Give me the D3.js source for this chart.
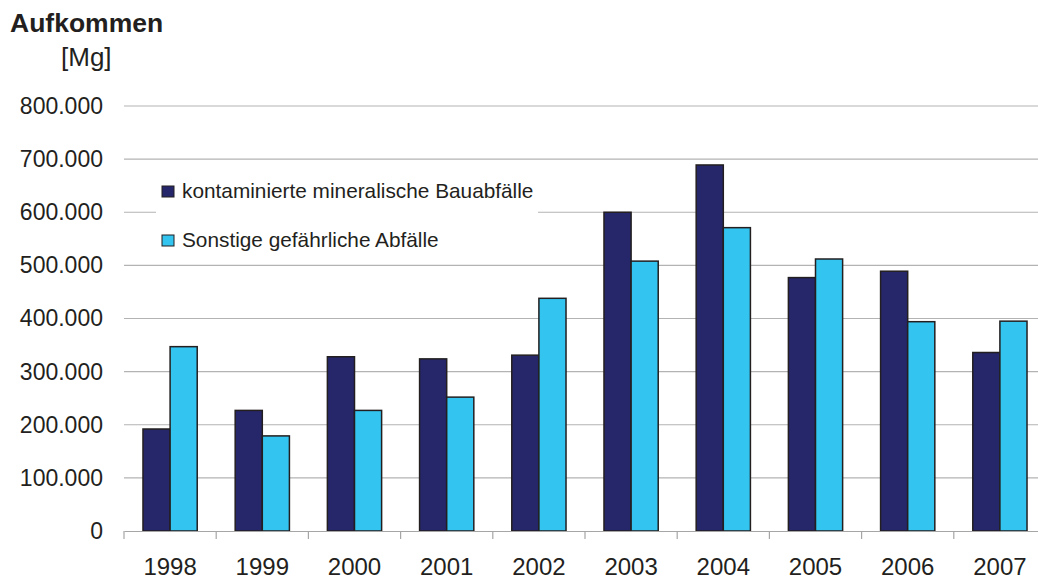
<!DOCTYPE html>
<html>
<head>
<meta charset="utf-8">
<script src="https://d3js.org/d3.v7.min.js"></script>
<style>
  body { margin: 0; background: #fff; }
  text { font-family: "Liberation Sans", Arial, sans-serif; fill: #231f20; }
</style>
</head>
<body>
<svg id="vis" width="1038" height="581"></svg>
<script>
  // data (Mg)
  var years = ["1998", "1999", "2000", "2001", "2002", "2003", "2004", "2005", "2006", "2007"]
  var seriesNames = ["kontaminierte mineralische Bauabfälle", "Sonstige gefährliche Abfälle"]
  var bauabfaelle = [192000, 227000, 328000, 324000, 331000, 600000, 689000, 477000, 489000, 336000]
  var sonstige = [347000, 179000, 227000, 252000, 438000, 508000, 571000, 512000, 394000, 395000]
  var yTicks = [0, 100000, 200000, 300000, 400000, 500000, 600000, 700000, 800000]
  var colors = ["#26266b", "#33c4f0"]

  var table = years.map(function(y, i) {
    return { year: y, values: [bauabfaelle[i], sonstige[i]] }
  })

  var svg = d3.select("#vis")

  // scales
  var x = d3.scaleBand()
      .domain(years)
      .range([124, 1046])
      .padding(0)
  var x1 = d3.scaleBand()
      .domain([0, 1])
      .range([0, x.bandwidth()])
      .paddingInner(0)
      .paddingOuter(0.7)
  var y = d3.scaleLinear()
      .domain([0, 800000])
      .range([531, 106])

  var fmt = function(d) { return d3.format(",")(d).replace(/,/g, ".") }

  // gridlines
  svg.append("g")
    .selectAll("line")
    .data(yTicks.slice(1))
    .enter().append("line")
      .attr("x1", 124)
      .attr("x2", 1038)
      .attr("y1", function(d) { return y(d) })
      .attr("y2", function(d) { return y(d) })
      .attr("stroke", "#b3b3b3")
      .attr("stroke-width", 1.2)

  // y axis labels
  var yAxis = svg.append("g")
      .attr("transform", "translate(124,0)")
      .call(d3.axisLeft(y).tickValues(yTicks).tickFormat(fmt).tickSize(0).tickPadding(21))
  yAxis.select(".domain").remove()
  yAxis.selectAll("text")
      .style("font-size", "23px")
      .attr("fill", "#231f20")

  // legend box (hides gridlines behind it)
  svg.append("rect")
      .attr("x", 156)
      .attr("y", 166)
      .attr("width", 382)
      .attr("height", 98)
      .attr("fill", "#fff")

  // bars
  var groups = svg.append("g")
    .selectAll("g")
    .data(table)
    .enter().append("g")
      .attr("transform", function(d) { return "translate(" + x(d.year) + ",0)" })

  groups.selectAll("rect")
    .data(function(d) { return d.values })
    .enter().append("rect")
      .attr("x", function(d, i) { return x1(i) })
      .attr("y", function(d) { return y(d) })
      .attr("width", x1.bandwidth())
      .attr("height", function(d) { return y(0) - y(d) })
      .attr("fill", function(d, i) { return colors[i] })
      .attr("stroke", "#231f20")
      .attr("stroke-width", 1.5)

  // x axis
  var xAxis = svg.append("g")
      .attr("transform", "translate(0,531)")
      .call(d3.axisBottom(x).tickSize(0).tickPadding(27))
  xAxis.select(".domain")
      .attr("stroke", "#a6a6a6")
      .attr("stroke-width", 1.2)
  xAxis.selectAll("text")
      .style("font-size", "24px")
      .attr("fill", "#231f20")

  // tick marks at category boundaries
  xAxis.append("g")
    .selectAll("line")
    .data(years)
    .enter().append("line")
      .attr("x1", function(d) { return x(d) })
      .attr("x2", function(d) { return x(d) })
      .attr("y1", 0)
      .attr("y2", 8)
      .attr("stroke", "#a6a6a6")
      .attr("stroke-width", 1.2)

  // legend
  var legend = svg.append("g")
  seriesNames.forEach(function(name, i) {
    legend.append("rect")
        .attr("x", 162)
        .attr("y", 186 + i * 49)
        .attr("width", 12)
        .attr("height", 11)
        .attr("fill", colors[i])
        .attr("stroke", "#231f20")
        .attr("stroke-width", 1)
    legend.append("text")
        .attr("x", 182)
        .attr("y", 198 + i * 49)
        .style("font-size", "20.8px")
        .text(name)
  })

  // titles
  svg.append("text")
      .attr("x", 10)
      .attr("y", 32)
      .style("font-size", "26.5px")
      .style("font-weight", "bold")
      .text("Aufkommen")
  svg.append("text")
      .attr("x", 61)
      .attr("y", 66)
      .style("font-size", "26px")
      .text("[Mg]")
</script>
</body>
</html>
